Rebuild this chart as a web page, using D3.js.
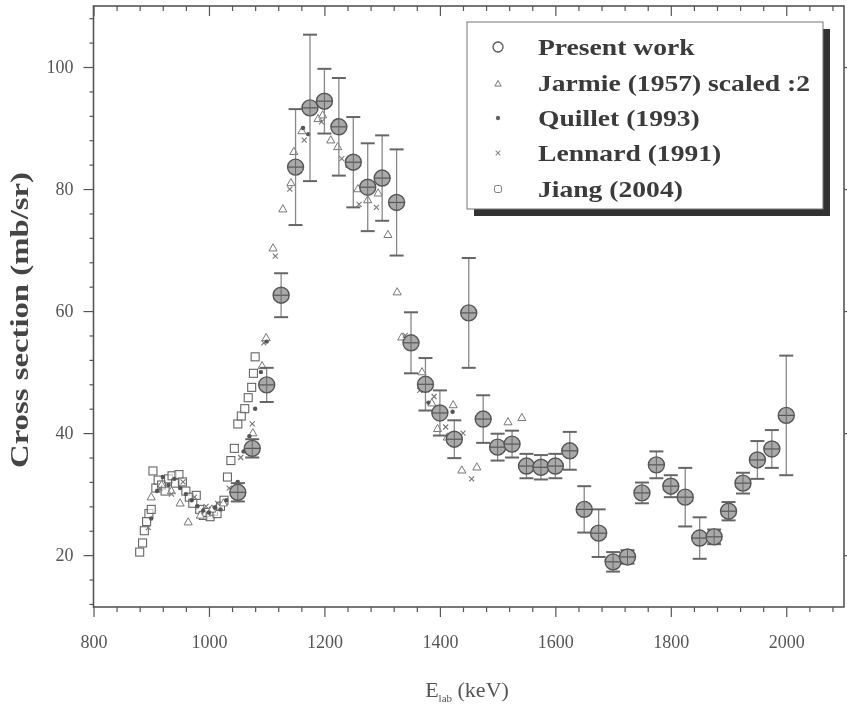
<!DOCTYPE html>
<html><head><meta charset="utf-8">
<script src="https://cdn.jsdelivr.net/npm/d3@7"></script>
<style>html,body{margin:0;padding:0;background:#fff;}</style>
</head><body>
<svg id="c" width="847" height="704"></svg>
<script>
// ---- data ----
const presentE = [1050,1075,1100,1125,1150,1175,1200,1225,1250,1275,1300,1325,1350,1375,1400,1425,1450,1475,1500,1525,1550,1575,1600,1625,1650,1675,1700,1725,1750,1775,1800,1825,1850,1875,1900,1925,1950,1975,2000];
const presentV = [30.3,37.5,47.9,62.6,83.6,93.3,94.4,90.2,84.4,80.3,81.8,77.8,54.8,48.0,43.3,39.0,59.7,42.3,37.7,38.2,34.6,34.4,34.6,37.1,27.5,23.6,18.9,19.7,30.2,34.8,31.3,29.5,22.8,23.0,27.2,31.8,35.6,37.4,42.9];
const presentErr = [1.5,1.5,2.8,3.6,9.5,12,5.3,8,7.4,7.2,7,8.7,5,4.3,3.7,3.1,9,3.9,2.2,2.2,2,2,2,3.1,3.8,3.9,1.6,1.1,1.7,2.2,1.8,4.8,3.4,1.2,1.5,1.7,3.1,3.1,9.8];

const jarmieE = [900,918,935,950,964,985,1005,1025,1048,1076,1092,1099,1111,1128,1142,1147,1161,1178,1189,1197,1211,1223,1244,1258,1275,1293,1310,1326,1334,1369,1386,1396,1413,1423,1438,1464,1518,1542];
const jarmieV = [29.5,31.5,30.5,28.5,25.4,26.5,27.5,28.5,31.5,40,51,55.6,70.3,76.7,81,86.1,89.5,93,91.5,92.1,88,86.9,84,80,78.2,79.3,72.5,63.1,55.7,50,44.9,40.7,39.3,44.6,33.9,34.4,41.8,42.5];

const quilletE = [900,910,920,930,940,950,960,970,980,990,1000,1010,1020,1030,1040,1050,1060,1070,1080,1090,1100,1163,1172,1380,1422];
const quilletV = [26,30.5,32.8,31.5,32.5,31,30,29,28,27.3,27,27.8,27.5,29,30.5,32,37,39.5,44,50,55,90,89,45,43.5];

const lennardE = [895,915,935,955,975,995,1015,1035,1055,1075,1095,1115,1140,1165,1195,1230,1260,1290,1340,1365,1390,1410,1440,1455];
const lennardV = [24.5,31,30,32,29.5,28,28.5,31,36,41.5,54.8,69,80,88,91,85,77.5,77,56,47,46,41,40,32.5];

const jiangE = [880,885,888,892,896,900,903,908,912,918,924,930,936,942,948,954,960,966,972,978,984,990,996,1002,1008,1014,1020,1026,1032,1038,1044,1050,1056,1062,1068,1074,1077,1080];
const jiangV = [20.5,22,24,25.5,26.8,27.5,33.8,31,32.3,31.5,30.5,32.5,33,31.8,33.2,32,30.5,29.5,28.5,29.8,27.5,26.5,27,26.3,27.2,26.8,28,29,32.8,35.5,37.5,41.5,42.8,44,45.8,47.5,49.8,52.5];

const xMajor = [800,1000,1200,1400,1600,1800,2000];
const yMajor = [20,40,60,80,100];
const legendLabels = ["Present work","Jarmie (1957) scaled :2","Quillet (1993)","Lennard (1991)","Jiang (2004)"];

// ---- chart ----
const svg = d3.select("#c");
const defs = svg.append("defs");
defs.append("filter").attr("id","blur").append("feGaussianBlur").attr("stdDeviation",0.55);
const root = svg.append("g").attr("filter","url(#blur)");

const L=93.5, R=844, T=6, B=607;
const x = d3.scaleLinear().domain([800,2100]).range([L,R]);
const y = d3.scaleLinear().domain([11.5,110]).range([B,T]);
const serif = "'Liberation Serif','DejaVu Serif',serif";
const axCol = "#555";

// frame
root.append("rect").attr("x",L).attr("y",T).attr("width",R-L).attr("height",B-T)
  .attr("fill","none").attr("stroke",axCol).attr("stroke-width",1.6);

const xMinor = d3.range(840,2100,40).filter(v=>!xMajor.includes(v));
const yMinor = d3.range(12,110,4).filter(v=>!yMajor.includes(v));

function styleAxis(g){ g.select(".domain").remove(); g.selectAll("line").attr("stroke",axCol).attr("stroke-width",1.2); }

root.append("g").attr("transform",`translate(0,${B})`)
  .call(d3.axisBottom(x).tickValues(xMajor).tickSize(10).tickPadding(18).tickFormat(d3.format("d")))
  .call(styleAxis)
  .call(g=>g.selectAll("text").attr("font-family",serif).attr("font-size",18).attr("fill","#555"));
root.append("g").attr("transform",`translate(0,${B})`)
  .call(d3.axisBottom(x).tickValues(xMinor).tickSize(5).tickFormat(""))
  .call(styleAxis);
root.append("g").attr("transform",`translate(0,${T})`)
  .call(d3.axisTop(x).tickValues(xMajor).tickSize(-10).tickFormat(""))
  .call(styleAxis);
root.append("g").attr("transform",`translate(0,${T})`)
  .call(d3.axisTop(x).tickValues(xMinor).tickSize(-5).tickFormat(""))
  .call(styleAxis);
root.append("g").attr("transform",`translate(${L},0)`)
  .call(d3.axisLeft(y).tickValues(yMajor).tickSize(10).tickPadding(10).tickFormat(d3.format("d")))
  .call(styleAxis)
  .call(g=>g.selectAll("text").attr("font-family",serif).attr("font-size",18).attr("fill","#555"));
root.append("g").attr("transform",`translate(${L},0)`)
  .call(d3.axisLeft(y).tickValues(yMinor).tickSize(4).tickFormat(""))
  .call(styleAxis);
root.append("g").attr("transform",`translate(${R},0)`)
  .call(d3.axisRight(y).tickValues(yMajor).tickSize(8).tickFormat(""))
  .call(styleAxis);

// axis titles
root.append("text").attr("transform",`translate(28,320) rotate(-90)`)
  .attr("text-anchor","middle").attr("font-family",serif).attr("font-weight","bold")
  .attr("font-size",26).attr("fill","#444")
  .attr("textLength",296).attr("lengthAdjust","spacingAndGlyphs").text("Cross section (mb/sr)");
const xt = root.append("text").attr("x",467).attr("y",697).attr("text-anchor","middle")
  .attr("font-family",serif).attr("font-size",22).attr("fill","#555");
xt.append("tspan").text("E");
xt.append("tspan").attr("font-size",11).attr("dy",5).text("lab");
xt.append("tspan").attr("dy",-5).text(" (keV)");

// symbols
function tri(g, cx, cy, s, col){ g.append("path").attr("d",`M${cx},${cy-s}L${cx+s*0.9},${cy+s*0.6}L${cx-s*0.9},${cy+s*0.6}Z`).attr("fill","#fff").attr("stroke",col).attr("stroke-width",1); }
function cross(g, cx, cy, s, col){ g.append("path").attr("d",`M${cx-s},${cy-s}L${cx+s},${cy+s}M${cx-s},${cy+s}L${cx+s},${cy-s}`).attr("stroke",col).attr("stroke-width",1.1); }

// Jiang squares
const gJ = root.append("g");
jiangE.forEach((e,i)=>{ gJ.append("rect").attr("x",x(e)-4).attr("y",y(jiangV[i])-4).attr("width",8).attr("height",8)
  .attr("fill","#fff").attr("fill-opacity",0.6).attr("stroke","#666").attr("stroke-width",1.1); });
// Jarmie triangles
const gT = root.append("g");
jarmieE.forEach((e,i)=>tri(gT, x(e), y(jarmieV[i]), 4.5, "#777"));
// Lennard crosses
const gL = root.append("g");
lennardE.forEach((e,i)=>cross(gL, x(e), y(lennardV[i]), 2.5, "#777"));
// Quillet dots
root.append("g").selectAll("circle").data(quilletE).join("circle")
  .attr("cx",d=>x(d)).attr("cy",(d,i)=>y(quilletV[i])).attr("r",2.2).attr("fill","#555");

// Present work with error bars
const gP = root.append("g");
presentE.forEach((e,i)=>{
  const cx=x(e), v=presentV[i], er=presentErr[i];
  const y1=y(v+er), y2=y(v-er);
  gP.append("line").attr("x1",cx).attr("x2",cx).attr("y1",y1).attr("y2",y2).attr("stroke","#888").attr("stroke-width",1.3);
  [y1,y2].forEach(yy=>gP.append("line").attr("x1",cx-7).attr("x2",cx+7).attr("y1",yy).attr("y2",yy).attr("stroke","#666").attr("stroke-width",2));
});
presentE.forEach((e,i)=>{
  const cx=x(e), cy=y(presentV[i]);
  gP.append("circle").attr("cx",cx).attr("cy",cy).attr("r",8).attr("fill","#a9a9a9").attr("stroke","#555").attr("stroke-width",1.4);
  gP.append("line").attr("x1",cx-8).attr("x2",cx+8).attr("y1",cy).attr("y2",cy).attr("stroke","#555").attr("stroke-width",1.2);
  gP.append("line").attr("x1",cx).attr("x2",cx).attr("y1",cy-8).attr("y2",cy+8).attr("stroke","#666").attr("stroke-width",1);
});

// legend
const lg = root.append("g");
lg.append("rect").attr("x",474).attr("y",29).attr("width",356).attr("height",187).attr("fill","#333");
lg.append("rect").attr("x",467).attr("y",22).attr("width",356).attr("height",187).attr("fill","#fff").attr("stroke","#777").attr("stroke-width",1);
const ly = [47,83,118,153,189];
legendLabels.forEach((t,i)=>{
  lg.append("text").attr("transform",`translate(538,${ly[i]+8}) scale(1.15,1)`).attr("font-family",serif).attr("font-weight","bold")
    .attr("font-size",24).attr("fill","#3a3a3a").text(t);
});
lg.append("circle").attr("cx",498).attr("cy",ly[0]).attr("r",5).attr("fill","none").attr("stroke","#555").attr("stroke-width",1.3);
tri(lg,498,ly[1]+1,3.5,"#777");
lg.append("circle").attr("cx",498).attr("cy",ly[2]).attr("r",2.2).attr("fill","#666");
cross(lg,498,ly[3],2.3,"#888");
lg.append("rect").attr("x",494.5).attr("y",ly[4]-3.5).attr("width",7).attr("height",7).attr("rx",2).attr("fill","none").attr("stroke","#777");
</script>
</body></html>
